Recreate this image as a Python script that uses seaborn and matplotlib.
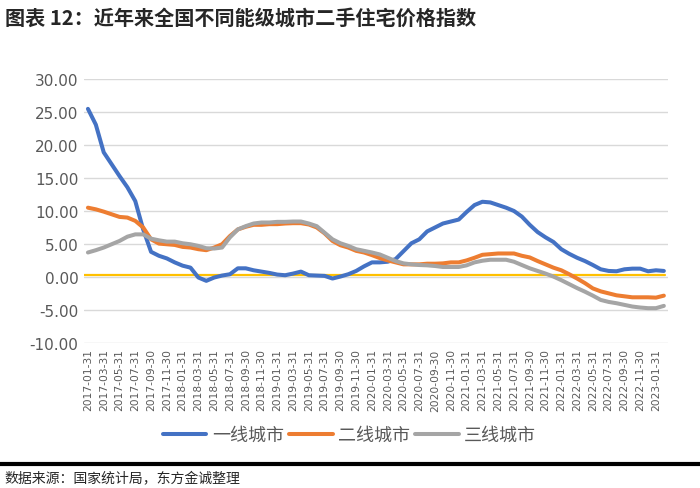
import pandas as pd
import matplotlib.pyplot as plt
import seaborn as sns

# month-end dates, 2017-01 .. 2023-02
months = pd.date_range('2017-01-31', periods=74, freq='ME').strftime('%Y-%m-%d').tolist()

tier1 = [25.5, 23.1, 18.9, 17.1, 15.3, 13.6, 11.5, 7.2, 3.8, 3.2,
         2.8, 2.2, 1.7, 1.4, -0.1, -0.6, -0.1, 0.2, 0.4, 1.3,
         1.3, 1.0, 0.8, 0.6, 0.35, 0.25, 0.5, 0.8, 0.25, 0.2,
         0.15, -0.25, 0.05, 0.4, 0.9, 1.6, 2.2, 2.2, 2.3, 2.7,
         3.9, 5.1, 5.7, 6.9, 7.5, 8.1, 8.4, 8.7, 9.85, 10.9,
         11.4, 11.3, 10.9, 10.5, 10.0, 9.15, 7.9, 6.8, 6.0, 5.3,
         4.2, 3.5, 2.9, 2.4, 1.8, 1.15, 0.9, 0.85, 1.15, 1.25,
         1.25, 0.85, 1.0, 0.9]
tier2 = [10.5, 10.25, 9.9, 9.5, 9.1, 9.0, 8.5, 7.5, 5.7, 5.05,
         4.95, 4.85, 4.55, 4.45, 4.2, 4.05, 4.45, 4.95, 6.2, 7.2,
         7.6, 7.9, 7.9, 8.0, 8.0, 8.1, 8.15, 8.15, 7.95, 7.5,
         6.6, 5.45, 4.8, 4.45, 3.95, 3.7, 3.3, 2.85, 2.5, 2.2,
         1.9, 1.9, 1.9, 2.0, 2.0, 2.05, 2.2, 2.2, 2.5, 2.9,
         3.35, 3.45, 3.55, 3.55, 3.55, 3.2, 2.95, 2.4, 1.9, 1.4,
         1.0, 0.4, -0.25, -0.95, -1.75, -2.2, -2.5, -2.8, -2.95, -3.1,
         -3.1, -3.1, -3.15, -2.85]
tier3 = [3.7, 4.05, 4.45, 4.95, 5.45, 6.1, 6.45, 6.45, 5.8, 5.55,
         5.35, 5.35, 5.1, 4.95, 4.7, 4.35, 4.3, 4.45, 6.0, 7.2,
         7.7, 8.1, 8.25, 8.25, 8.35, 8.35, 8.4, 8.4, 8.1, 7.7,
         6.7, 5.7, 5.1, 4.7, 4.2, 3.95, 3.7, 3.4, 2.9, 2.4,
         2.05, 1.9, 1.8, 1.75, 1.65, 1.5, 1.5, 1.5, 1.75, 2.2,
         2.45, 2.6, 2.6, 2.6, 2.3, 1.8, 1.3, 0.9, 0.5, 0.05,
         -0.5, -1.1, -1.7, -2.25, -2.85, -3.5, -3.8, -4.0, -4.25, -4.5,
         -4.65, -4.75, -4.75, -4.4]
series_names = ['一线城市', '二线城市', '三线城市']
ref_level = 0.35

df = pd.DataFrame({'month': months * 3,
                   'idx': list(range(len(months))) * 3,
                   'value': tier1 + tier2 + tier3,
                   'city': [n for n in series_names for _ in months]})

sns.set_style('white')
plt.rcParams['font.family'] = ['Noto Sans CJK SC', 'DejaVu Sans']

fig = plt.figure(figsize=(7, 4.89), dpi=100)
ax = fig.add_axes([0.12, 0.297, 0.834, 0.539])

palette = {'一线城市': '#4472C4', '二线城市': '#ED7D31', '三线城市': '#A5A5A5'}
sns.lineplot(data=df, x='idx', y='value', hue='city', palette=palette,
             linewidth=2.9, ax=ax, legend=True)
ax.axhline(ref_level, xmin=0.0, xmax=0.995, color='#FFC000', linewidth=1.6, zorder=1)

ax.set_xlim(-0.5, len(months) - 0.5)
ax.set_ylim(-10, 30)
ax.set_yticks(range(-10, 31, 5))
ax.set_yticklabels([f'{v:.2f}' for v in range(-10, 31, 5)], fontsize=11,
                   color='#595959', family=['DejaVu Sans'])
ax.set_xticks(range(0, len(months), 2))
ax.set_xticklabels(months[::2], rotation=90, fontsize=7.7, color='#595959',
                   family=['DejaVu Sans'])
ax.yaxis.grid(True, color='#D9D9D9', linewidth=1)
ax.set_axisbelow(True)
for s in ax.spines.values():
    s.set_visible(False)
ax.tick_params(length=0, pad=4)
ax.set_xlabel('')
ax.set_ylabel('')

ax.legend(loc='upper center', bbox_to_anchor=(0.455, -0.255), ncol=3, frameon=False,
          fontsize=13, handlelength=2.4, columnspacing=0.3, handletextpad=0.3,
          labelcolor='#595959')

fig.text(0.007, 0.962, '图表 12：近年来全国不同能级城市二手住宅价格指数',
         fontsize=14.5, fontweight='bold', va='center', ha='left')
sep_y = 1 - 465 / 489
fig.add_artist(plt.Line2D([0.0, 1.0], [sep_y, sep_y], transform=fig.transFigure,
                          color='black', linewidth=3))
fig.text(0.007, 1 - 479 / 489, '数据来源：国家统计局，东方金诚整理',
         fontsize=10, va='center', ha='left')

fig.savefig('out.png', dpi=100)
